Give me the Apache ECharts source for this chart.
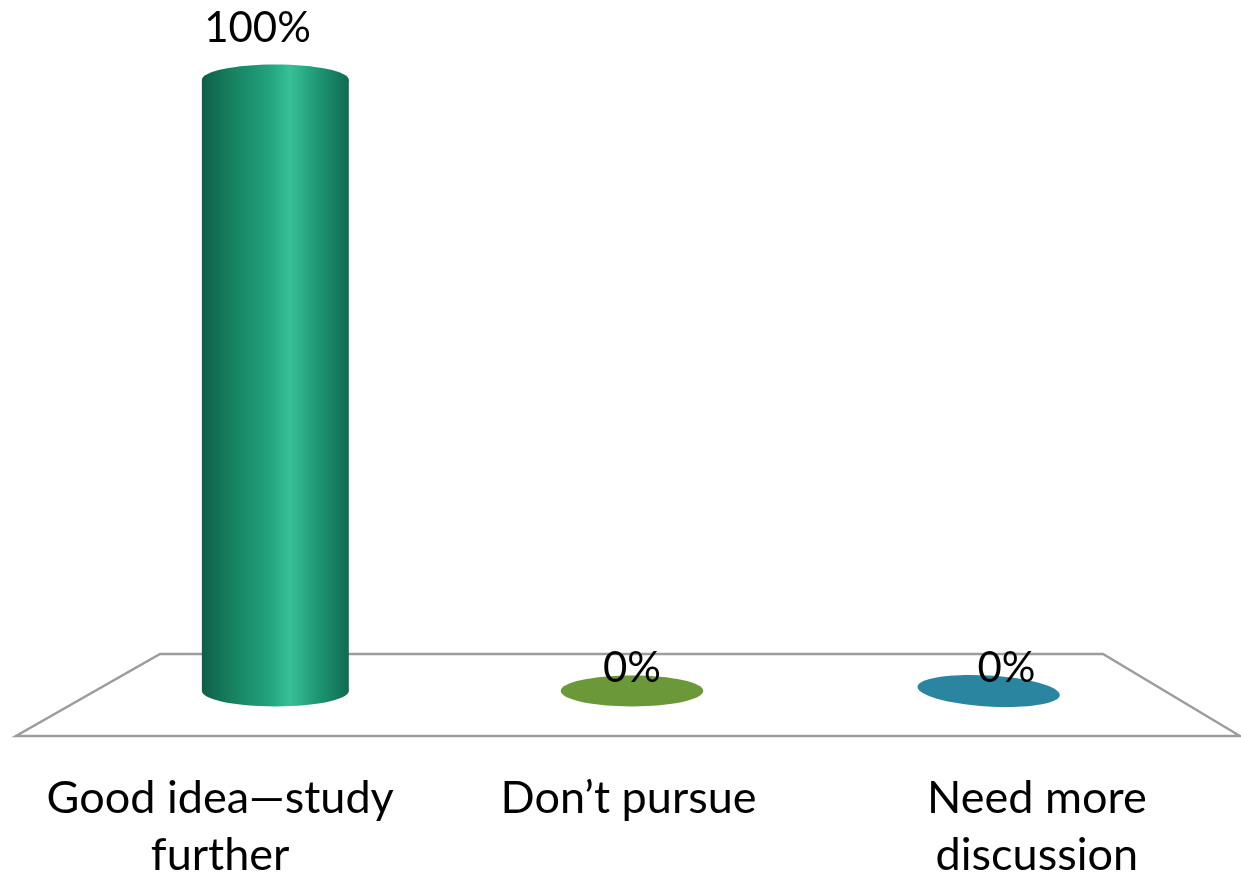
<!DOCTYPE html>
<html>
<head>
<meta charset="utf-8">
<script src="https://cdn.jsdelivr.net/npm/echarts@6/dist/echarts.min.js"></script>
<style>
  html, body { margin: 0; padding: 0; background: #fff; }
  #chart { width: 1241px; height: 875px; }
</style>
</head>
<body>
<div id="chart"></div>
<script>
// Survey responses
const categories = ['Good idea\u2014study\nfurther', 'Don\u2019t pursue', 'Need more\ndiscussion'];
const values = [100, 0, 0];
const barColors = ['#1f9a78', '#6b9838', '#2a86a0'];

const FONT = 'Lato, "Open Sans", sans-serif';

// Horizontal shading across a cylinder body
function cylinderFill() {
  return new echarts.graphic.LinearGradient(0, 0, 1, 0, [
    { offset: 0, color: '#0e5f47' },
    { offset: 0.2, color: '#17805f' },
    { offset: 0.45, color: '#22a17e' },
    { offset: 0.6, color: '#37c097' },
    { offset: 0.8, color: '#1d9473' },
    { offset: 1, color: '#0f6a50' }
  ]);
}

const chart = echarts.init(document.getElementById('chart'), null, { renderer: 'canvas' });

chart.setOption({
  animation: false,
  backgroundColor: '#ffffff',
  grid: [
    // floor plane, category labels along its front edge
    { left: 16, right: 0, top: 654, height: 82, outerBoundsMode: 'none', containLabel: false },
    // cylinders standing on the floor
    { left: 97, right: 74, top: 80, height: 611, outerBoundsMode: 'none', containLabel: false }
  ],
  xAxis: [
    {
      gridIndex: 0, type: 'category', data: categories,
      axisLine: { show: false }, axisTick: { show: false }, splitLine: { show: false },
      axisLabel: {
        interval: 0, margin: 34, color: '#000', fontFamily: FONT,
        fontSize: 45, lineHeight: 57
      }
    },
    { gridIndex: 1, type: 'category', data: categories, show: false }
  ],
  yAxis: [
    { gridIndex: 0, type: 'value', min: 0, max: 1, show: false },
    { gridIndex: 1, type: 'value', min: 0, max: 100, show: false }
  ],
  series: [
    {
      // floor outline
      type: 'custom', xAxisIndex: 0, yAxisIndex: 0, silent: true, clip: false,
      data: [[0, 0]],
      renderItem: function (params) {
        const r = params.coordSys;
        const backInsetL = 144, backInsetR = 138;
        return {
          type: 'polygon',
          shape: {
            points: [
              [r.x, r.y + r.height],
              [r.x + r.width - 1, r.y + r.height],
              [r.x + r.width - backInsetR, r.y],
              [r.x + backInsetL, r.y]
            ]
          },
          style: { fill: '#ffffff', stroke: '#9c9c9c', lineWidth: 2.5 }
        };
      }
    },
    {
      // cylinders with value labels
      type: 'custom', xAxisIndex: 1, yAxisIndex: 1, silent: true, clip: false,
      data: values.map((v, i) => [i, v]),
      renderItem: function (params, api) {
        const i = api.value(0), v = api.value(1);
        const base = api.coord([i, 0]);
        const top = api.coord([i, v]);
        const band = api.size([1, 0])[0];
        const cx = base[0];
        const rx = band * 0.206;
        const ry = rx * 0.21;
        const mid = params.coordSys.x + params.coordSys.width / 2;
        const tilt = -(cx - mid) / band * 0.06;
        const children = [];
        if (v > 0) {
          // bottom cap, body and top cap share one horizontal shading
          children.push({
            type: 'ellipse',
            shape: { cx: cx, cy: base[1], rx: rx, ry: ry },
            style: { fill: cylinderFill() }
          });
          children.push({
            type: 'rect',
            shape: { x: cx - rx, y: top[1], width: rx * 2, height: base[1] - top[1] },
            style: { fill: cylinderFill() }
          });
          children.push({
            type: 'ellipse',
            shape: { cx: cx, cy: top[1], rx: rx, ry: ry },
            style: { fill: cylinderFill() }
          });
        } else {
          children.push({
            type: 'ellipse', x: cx, y: base[1], rotation: tilt,
            shape: { cx: 0, cy: 0, rx: rx * 0.97, ry: ry },
            style: { fill: barColors[i] }
          });
        }
        children.push({
          type: 'text',
          x: cx + (cx - mid) * 0.05,
          y: top[1] - (v > 0 ? 52 : 23),
          style: {
            text: v + '%', fill: '#000', fontFamily: FONT, fontSize: 42,
            align: 'center', verticalAlign: 'middle'
          }
        });
        return { type: 'group', children: children };
      }
    }
  ]
});
</script>
</body>
</html>
